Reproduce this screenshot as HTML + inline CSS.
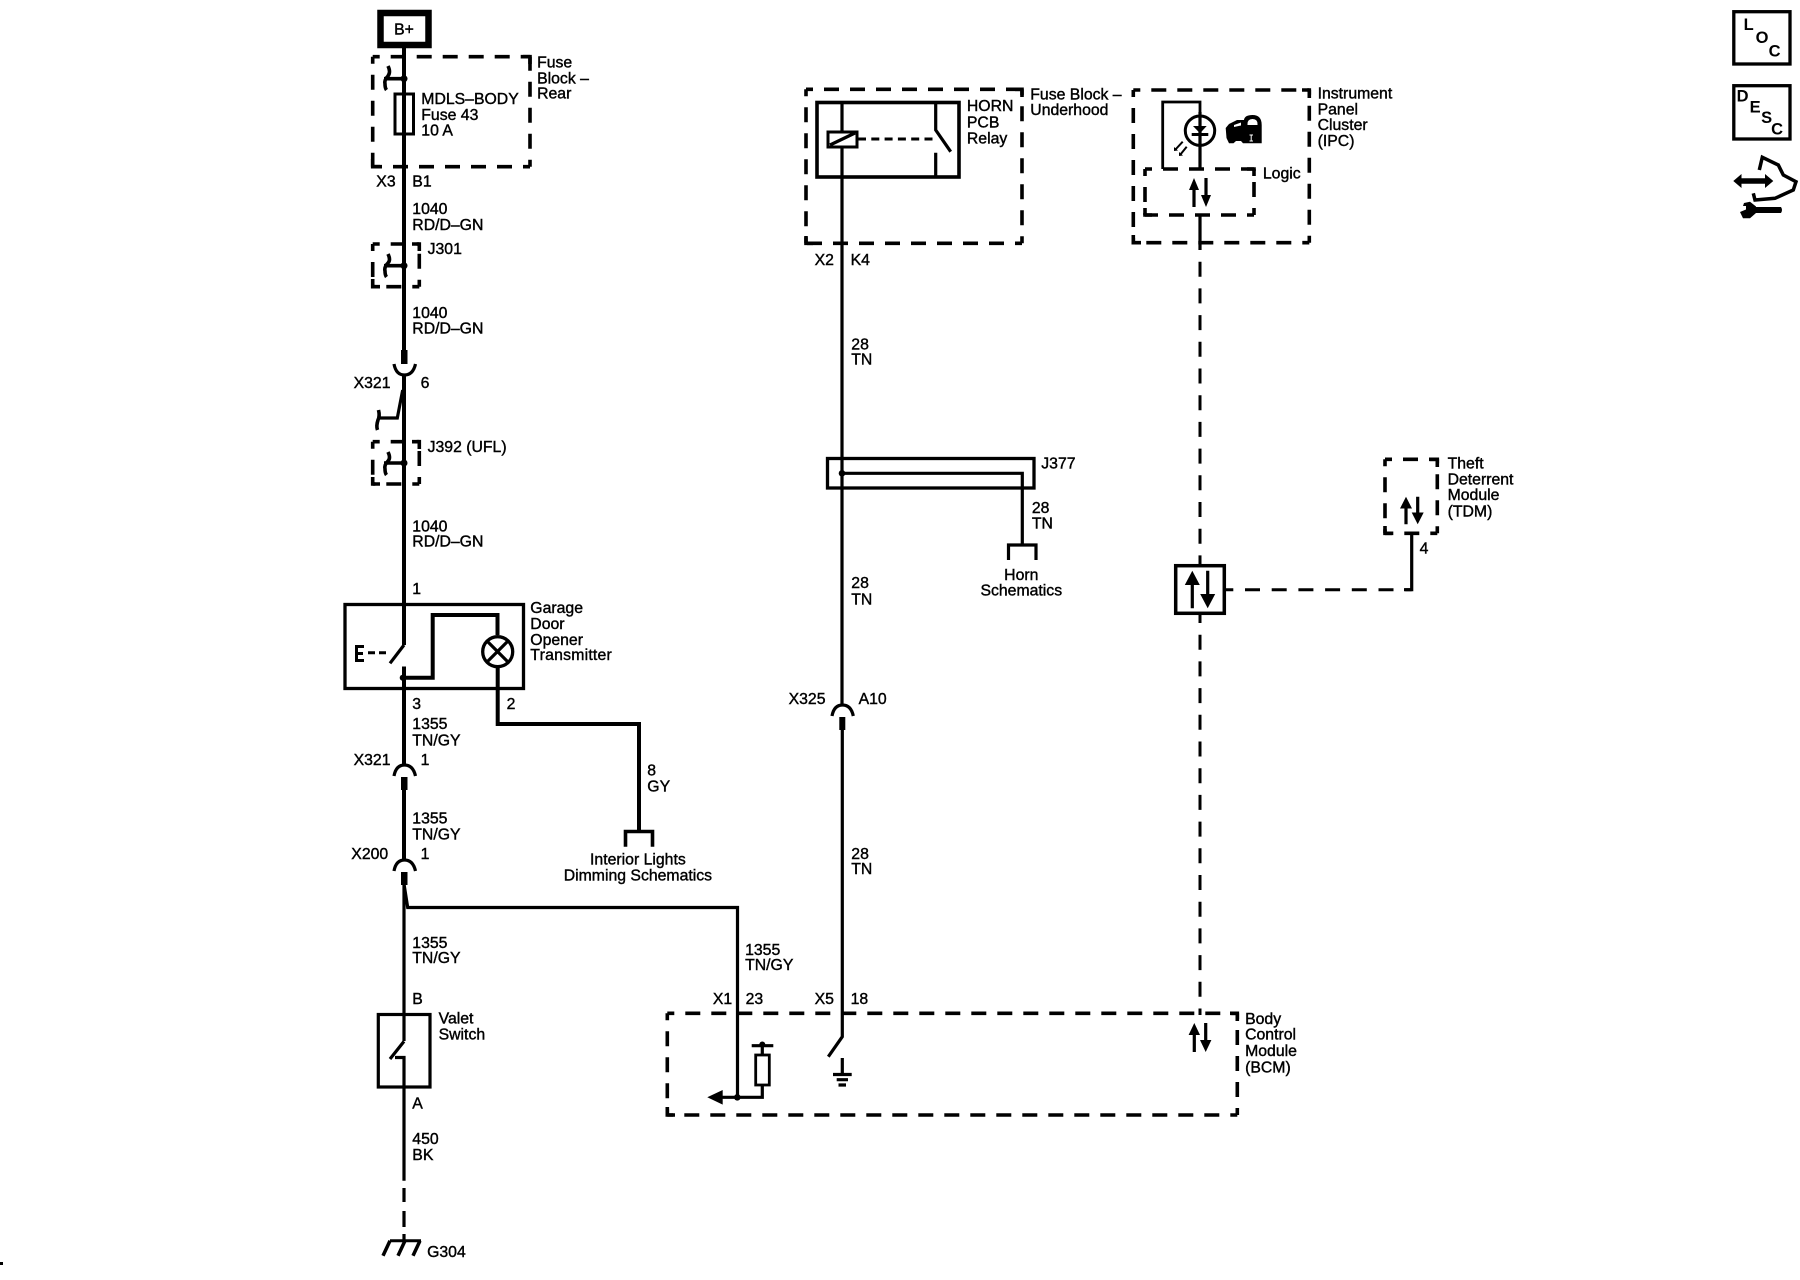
<!DOCTYPE html>
<html><head><meta charset="utf-8"><style>
html,body{margin:0;padding:0;background:#fff}
svg{display:block}
text{font-family:"Liberation Sans",sans-serif;font-size:15.8px;fill:#000;stroke:#000;stroke-width:.4;transform:translate(-.4px,0)}
.w{fill:none;stroke:#000;stroke-width:3.2}
.t{fill:none;stroke:#000;stroke-width:4}
.d{fill:none;stroke:#000;stroke-width:3.6;stroke-dasharray:15 11;stroke-dashoffset:8}
.c{fill:none;stroke:#000;stroke-width:3.6}
.dw{fill:none;stroke:#000;stroke-width:3;stroke-dasharray:15 11.7}
.b{fill:#000;stroke:none}
.i{font-weight:bold;font-size:16.5px;stroke-width:0}
</style></head><body>
<svg width="1800" height="1280" viewBox="0 0 1800 1280" xmlns="http://www.w3.org/2000/svg">
<rect width="1800" height="1280" fill="#fff"/>

<!-- B+ -->
<rect x="380.5" y="13" width="48" height="32" fill="#fff" stroke="#000" stroke-width="6.5"/>
<text x="394.5" y="34.5">B+</text>

<!-- Fuse block -->
<path class="d" d="M372.7 56.7H530M372.7 56.7V166.7M530 166.7H372.7M530 166.7V56.7"/>
<path class="c" d="M523 56.7H530V64M372.7 159V166.7H380"/>
<path class="t" d="M404 48V350"/>
<path class="w" d="M404 78.7H384" style="stroke-width:3.6"/>
<path class="w" d="M388 66Q391 72 388 76Q384 80 385 84Q385 88 386.5 90" style="stroke-width:3.6"/>
<circle class="b" cx="404" cy="78.7" r="3.5"/>
<rect x="395" y="94" width="18.5" height="40" fill="#fff" stroke="#000" stroke-width="3"/>
<path class="t" d="M404 94V134"/>
<text x="537.5" y="67.7">Fuse</text><text x="537.5" y="83.3">Block –</text><text x="537.5" y="98.5">Rear</text>
<text x="421.7" y="104">MDLS–BODY</text><text x="421.7" y="120">Fuse 43</text><text x="421.7" y="135.5">10 A</text>
<text x="376.7" y="186.7">X3</text><text x="412.7" y="186.7">B1</text>
<text x="412.7" y="214">1040</text><text x="412.7" y="230">RD/D–GN</text>

<!-- J301 -->
<path class="d" d="M372.7 244H419.3M372.7 244V286.7M419.3 286.7H372.7M419.3 286.7V244"/>
<path class="c" d="M412 244H419.3V251M372.7 279V286.7H380"/>
<path class="w" d="M404 265.7H384" style="stroke-width:3.6"/>
<path class="w" d="M388 254Q391 260 388 263Q384 267 385 271Q385 275 386.5 277" style="stroke-width:3.6"/>
<circle class="b" cx="404" cy="265.7" r="3.5"/>
<text x="428" y="254">J301</text>
<text x="412.7" y="318">1040</text><text x="412.7" y="333.5">RD/D–GN</text>

<!-- X321 6 -->
<rect x="401" y="350" width="6.5" height="14" class="b"/>
<path class="w" d="M394 364Q396 375 404.5 375Q413 375 415.5 364"/>
<path class="t" d="M404 375V602"/>
<path class="w" d="M402.7 390L397.3 418H379.3"/>
<path class="w" d="M378.5 410Q380 416 378 420Q376 426 377.5 430" style="stroke-width:3.6"/>
<text x="354" y="388">X321</text><text x="421" y="388">6</text>

<!-- J392 -->
<path class="d" d="M372.7 441.7H419.3M372.7 441.7V484M419.3 484H372.7M419.3 484V441.7"/>
<path class="c" d="M412 441.7H419.3V449M372.7 477V484H380"/>
<path class="w" d="M404 463H384" style="stroke-width:3.6"/>
<path class="w" d="M388 452Q391 458 388 461Q384 465 385 469Q385 473 386.5 475" style="stroke-width:3.6"/>
<circle class="b" cx="404" cy="463" r="3.5"/>
<text x="428" y="452">J392 (UFL)</text>
<text x="412.7" y="531.7">1040</text><text x="412.7" y="546.7">RD/D–GN</text>
<text x="412.7" y="594">1</text>

<!-- GDO -->
<rect x="345" y="604.5" width="178.5" height="84" fill="none" stroke="#000" stroke-width="3.3"/>
<path class="t" d="M404 602V645"/>
<path class="w" d="M404 645L390 663.3"/>
<path d="M368 652.7H390" fill="none" stroke="#000" stroke-width="3" stroke-dasharray="7 4"/>
<path class="b" d="M355 645H364V648H358V652H363V655H358V659H364V662H355Z"/>
<path class="t" d="M404 666.5V690"/>
<circle class="b" cx="402.7" cy="677.7" r="3"/>
<path class="t" d="M402 677.7H432.7V615H497.5V635"/>
<circle cx="497.7" cy="651.7" r="15" fill="none" stroke="#000" stroke-width="3.3"/>
<path class="w" d="M487 641L508 662M508 641L487 662"/>
<path class="t" d="M497.7 667V724H639V830.7"/>
<path class="w" d="M625.5 846.8V831.5H652.5V846.8" style="stroke-width:3.6"/>
<text x="530.7" y="613">Garage</text><text x="530.7" y="629">Door</text><text x="530.7" y="645">Opener</text><text x="530.7" y="660" textLength="81.5">Transmitter</text>
<text x="412.7" y="709">3</text><text x="507" y="709">2</text>
<text x="412.7" y="729">1355</text><text x="412.7" y="745.7">TN/GY</text>

<path class="t" d="M404 690V765"/>
<path class="w" d="M394 776Q396 765 404.5 765Q413 765 415.5 776"/>
<rect x="401" y="777" width="6.5" height="13" class="b"/>
<path class="t" d="M404 790V860"/>
<text x="354" y="765">X321</text><text x="421" y="765">1</text>
<text x="647.7" y="775.4">8</text><text x="647.7" y="791.4">GY</text>
<text x="638.3" y="864.6" text-anchor="middle">Interior Lights</text>
<text x="638.3" y="880.7" text-anchor="middle">Dimming Schematics</text>
<text x="412.7" y="823.6">1355</text><text x="412.7" y="839.6">TN/GY</text>

<path class="w" d="M394 871Q396 860 404.5 860Q413 860 415.5 871"/>
<rect x="401" y="872" width="6.5" height="13" class="b"/>
<text x="351.7" y="859">X200</text><text x="421" y="859">1</text>
<path class="w" d="M404 884V1041"/>
<path class="w" d="M404 884L407.7 907.5H737.5V1097.3"/>
<text x="412.7" y="948">1355</text><text x="412.7" y="963">TN/GY</text>
<text x="745.5" y="955">1355</text><text x="745.5" y="970">TN/GY</text>

<!-- Valet -->
<text x="412.7" y="1004">B</text>
<rect x="378.3" y="1014.5" width="51.7" height="72.5" fill="none" stroke="#000" stroke-width="3.2"/>
<path class="w" d="M404 1041.4L390 1059M395 1057.5H404V1180.7"/>
<path class="w" d="M404 1188V1202M404 1211V1227M404 1234V1240.7"/>
<path class="t" d="M390 1240.7H421" style="stroke-width:3"/>
<path class="t" d="M390 1240.7L383 1255.7M405 1240.7L398 1255.7M420 1240.7L413 1255.7" style="stroke-width:3.5"/>
<text x="439" y="1023.6">Valet</text><text x="439" y="1039.6">Switch</text>
<text x="412.7" y="1108.6">A</text>
<text x="412.7" y="1144">450</text><text x="412.7" y="1160">BK</text>
<text x="427.5" y="1257">G304</text>

<!-- Horn relay -->
<path class="d" d="M806 89.3H1022M806 89.3V243.3M1022 243.3H806M1022 243.3V89.3"/>
<path class="c" d="M1015 89.3H1022V97M806 236V243.3H813"/>
<rect x="817" y="102.5" width="142" height="74.5" fill="none" stroke="#000" stroke-width="3.6"/>
<path class="w" d="M842 102V705"/>
<rect x="828" y="132" width="29" height="15" fill="#fff" stroke="#000" stroke-width="3"/>
<path class="w" d="M830 145L855 133"/>
<path d="M858 139H935" fill="none" stroke="#000" stroke-width="3" stroke-dasharray="8 5.3"/>
<path class="w" d="M935.7 102V130L950.7 151.7M935.7 152.7V177"/>
<text x="1030.7" y="99.3">Fuse Block –</text><text x="1030.7" y="115">Underhood</text>
<text x="967.3" y="111">HORN</text><text x="967.3" y="127.3">PCB</text><text x="967.3" y="143.3">Relay</text>
<text x="815" y="265">X2</text><text x="851" y="265">K4</text>
<text x="851.7" y="349.3">28</text><text x="851.7" y="364.3">TN</text>

<!-- J377 -->
<rect x="827.5" y="458.5" width="206.5" height="29.5" fill="none" stroke="#000" stroke-width="3.3"/>
<circle class="b" cx="842" cy="473.3" r="3.3"/>
<path class="w" d="M842 473.3H1022.3V545"/>
<path class="w" d="M1008.5 560V545H1036V560"/>
<text x="1041.7" y="468.3">J377</text>
<text x="1032.3" y="513">28</text><text x="1032.3" y="528.3">TN</text>
<text x="1021.7" y="580" text-anchor="middle">Horn</text><text x="1021.7" y="595.7" text-anchor="middle">Schematics</text>
<text x="851.7" y="588">28</text><text x="851.7" y="604.3">TN</text>
<text x="789" y="704">X325</text><text x="859" y="704">A10</text>
<path class="w" d="M832 716Q834 705 842.5 705Q851 705 853.3 716"/>
<rect x="839.3" y="717" width="6" height="13" class="b"/>
<path class="w" d="M842.3 730V1036.7L828.3 1056.7"/>
<text x="851.7" y="859">28</text><text x="851.7" y="874">TN</text>

<!-- BCM -->
<path class="d" d="M667.3 1013.3H1237.3M667.3 1013.3V1115M1237.3 1115H667.3M1237.3 1115V1013.3"/>
<path class="c" d="M1230 1013.3H1237.3V1021M667.3 1107V1115H675"/>
<text x="713.3" y="1004">X1</text><text x="746" y="1004">23</text><text x="815" y="1004">X5</text><text x="851" y="1004">18</text>
<path class="w" d="M751.7 1045.7H773.3M762.3 1045V1055"/>
<circle class="b" cx="762.3" cy="1044.5" r="3"/>
<rect x="755.7" y="1055" width="13.6" height="30" fill="#fff" stroke="#000" stroke-width="2.8"/>
<path class="w" d="M762.3 1085V1097.3H720"/>
<path class="b" d="M707.3 1097.3L722.7 1090V1104.6Z"/>
<circle class="b" cx="737.3" cy="1097.3" r="3.3"/>
<path class="w" d="M842.3 1058V1073"/>
<path class="w" d="M833 1074.5H851.7M836.7 1079.7H848M838.5 1085H846"/>
<path class="w" d="M1194.3 1034V1052M1205.7 1023V1042"/>
<path class="b" d="M1194.3 1023L1200 1035H1188.6ZM1205.7 1052L1200 1040H1211.4Z"/>
<text x="1245.5" y="1024">Body</text><text x="1245.5" y="1039.3">Control</text><text x="1245.5" y="1056">Module</text><text x="1245.5" y="1072.7">(BCM)</text>

<!-- IPC -->
<path class="d" d="M1133.3 90H1309.3M1133.3 90V242.7M1309.3 242.7H1133.3M1309.3 242.7V90"/>
<path class="c" d="M1302 90H1309.3V98M1133.3 235V242.7H1141"/>
<path class="d" d="M1145 169H1254M1145 169V215M1254 215H1145M1254 215V169"/>
<path class="c" d="M1247 169H1254V176M1145 208V215H1152"/>
<path class="w" d="M1200 169V102H1162.7V169" style="stroke-width:2.8"/>
<circle cx="1200" cy="130.7" r="14.7" fill="#fff" stroke="#000" stroke-width="3"/>
<path class="w" d="M1200 112V169"/>
<path class="b" d="M1193 126H1206.7L1200 133.3Z"/>
<path class="w" d="M1191.7 134.5H1208.3" style="stroke-width:3"/>
<path d="M1182.7 141.7L1175 150M1186.7 146.7L1180 155" fill="none" stroke="#000" stroke-width="2"/>
<path class="b" d="M1174 147L1174 151L1178 150.5ZM1179 152L1179 156L1183 155.5Z"/>
<!-- car + lock -->
<path class="b" d="M1225.7 128L1229 124L1237 120H1244Q1244.5 115 1252.5 115Q1261.7 115 1261.7 125V143.3H1243L1241 141H1236L1233.5 143.3H1229L1226.5 138Z"/>
<path d="M1234 125L1241 122.5V125.5L1234 127ZM1247.5 124Q1247.5 119 1252.5 119Q1257.5 119 1257.5 124V125H1247.5Z" fill="#fff"/>
<path d="M1249.5 135H1253M1251.2 135V141M1249.5 141H1253" fill="none" stroke="#fff" stroke-width="1"/>
<path class="w" d="M1194 188V207M1206 178V197"/>
<path class="b" d="M1194 178L1199 190H1189ZM1206 207L1201 195H1211Z"/>
<text x="1318" y="98.3">Instrument</text><text x="1318" y="114.3">Panel</text><text x="1318" y="130">Cluster</text><text x="1318" y="146">(IPC)</text>
<text x="1263.3" y="178.3">Logic</text>
<path class="w" d="M1200 215V250"/>
<path class="dw" d="M1200 261.7V564"/>
<path class="dw" d="M1200 608V1015"/>
<rect x="1175.7" y="565.7" width="48.6" height="47.6" fill="#fff" stroke="#000" stroke-width="3.5"/>
<path class="w" d="M1192.3 584V608.3M1207.7 570.7V595"/>
<path class="b" d="M1192.3 570.7L1199.8 585H1184.8ZM1207.7 608.3L1200.2 594H1215.2Z"/>
<path class="dw" d="M1226 589.7H1411.7" style="stroke-dashoffset:7.7"/>
<path class="w" d="M1404 589.7H1411.7V534.3"/>
<text x="1420" y="553.3">4</text>

<!-- TDM -->
<path class="d" d="M1385 459.3H1437.3M1385 459.3V533.3M1437.3 533.3H1385M1437.3 533.3V459.3"/>
<path class="c" d="M1430 459.3H1437.3V467M1385 526V533.3H1392"/>
<path class="w" d="M1406 506V524.3M1417.7 496.7V514"/>
<path class="b" d="M1406 496.7L1412 508.5H1400ZM1417.7 524.3L1411.7 512.5H1423.7Z"/>
<text x="1448" y="468.3">Theft</text><text x="1448" y="484.3">Deterrent</text><text x="1448" y="500">Module</text><text x="1448" y="516.7">(TDM)</text>

<!-- Right icons -->
<rect x="1733.8" y="11.7" width="56.2" height="52.3" fill="none" stroke="#000" stroke-width="3.3"/>
<text class="i" x="1744" y="30">L</text><text class="i" x="1756" y="43">O</text><text class="i" x="1769" y="56.7">C</text>
<rect x="1733.8" y="85.7" width="56.2" height="53.3" fill="none" stroke="#000" stroke-width="3.3"/>
<text class="i" x="1737" y="101.7">D</text><text class="i" x="1750" y="112.7">E</text><text class="i" x="1761.5" y="123">S</text><text class="i" x="1771.5" y="134.3">C</text>
<path class="b" d="M1733.3 181L1741.5 174V178.3H1765V174L1773.3 181L1765 188V183.8H1741.5V188Z"/>
<path fill="none" stroke="#000" stroke-width="3.5" d="M1753.3 193.3L1755 200L1775 198.3L1793.3 190L1796 181.7L1783.3 175L1778.3 165L1762.3 157.3L1759.3 170"/>
<path class="b" d="M1744 203L1750 201.7L1756 206.5V207H1781Q1783 210 1781 213H1756L1750 218.3H1743L1740 212L1746 209.5L1746 206L1743 206Z"/>
<rect x="0" y="1262" width="3" height="3" class="b"/>
</svg>
</body></html>
